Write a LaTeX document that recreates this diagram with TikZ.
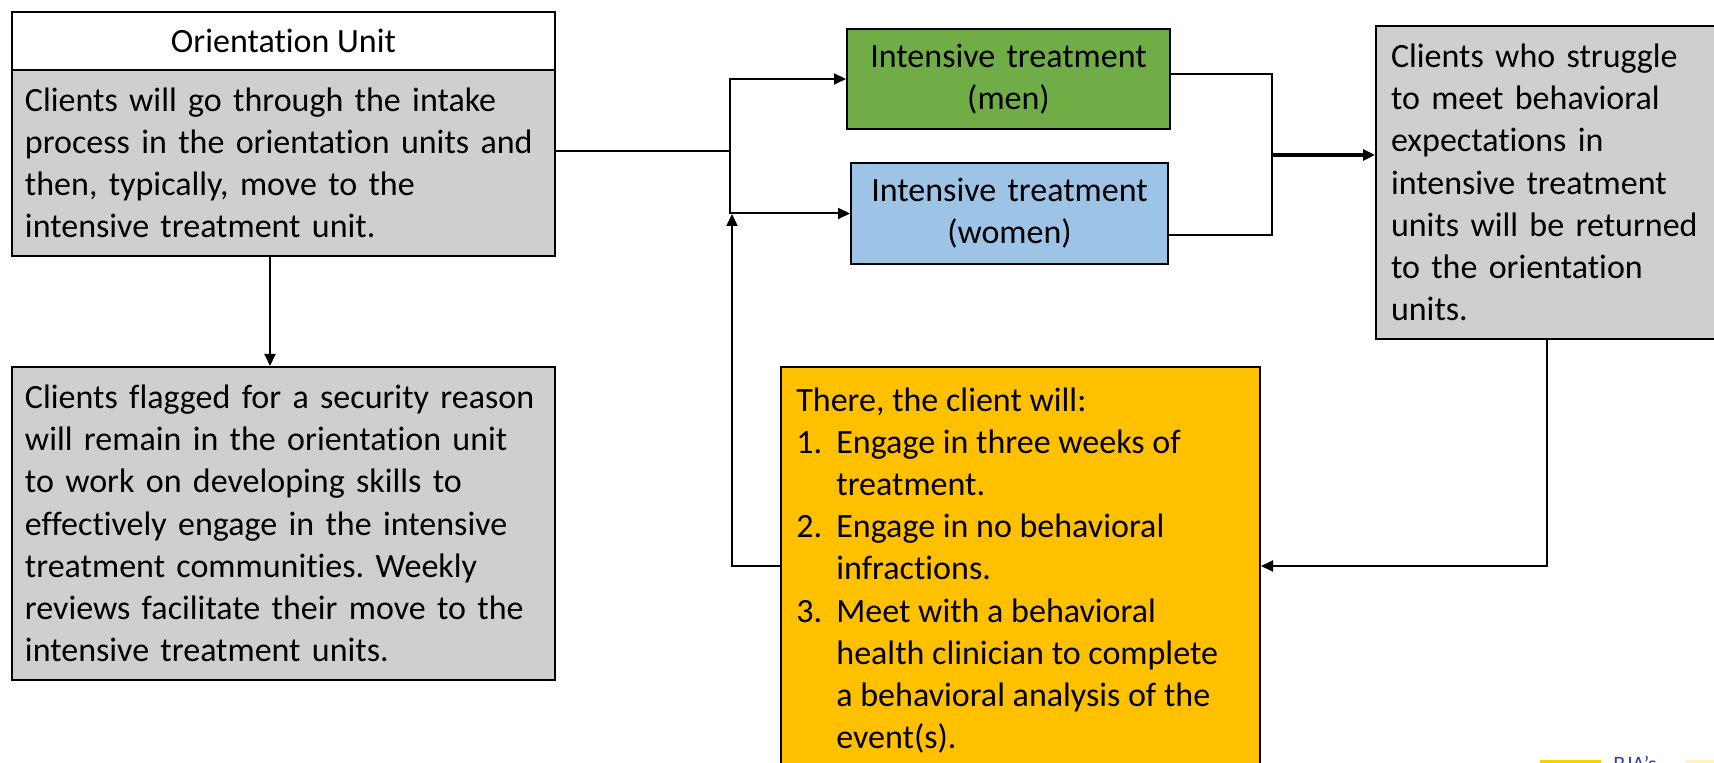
\documentclass[tikz,border=0pt]{standalone}
\usepackage{fontspec}
\setmainfont{Carlito}[Ligatures={NoCommon}]
\usetikzlibrary{arrows.meta,calc}
\definecolor{menG}{HTML}{70AD47}
\definecolor{womB}{HTML}{9DC3E6}
\definecolor{boxGrey}{HTML}{D0CECE}
\definecolor{yelO}{HTML}{FFC000}
\definecolor{logoY}{HTML}{F2D400}
\definecolor{logoL}{HTML}{FFF3C4}
\definecolor{logoB}{HTML}{33439C}
\newcommand{\fsz}{\fontsize{17}{21.1}\selectfont\frenchspacing}
\tikzset{
  box/.style={draw, line width=1pt, anchor=north west, inner ysep=0pt, font=\fsz},
  link/.style={line width=1pt},
  arr/.style={line width=1pt, -{Triangle[length=6pt,width=5.5pt]}},
  thickarr/.style={line width=2pt, -{Triangle[length=6pt,width=5.5pt]}},
}
\begin{document}
\begin{tikzpicture}[x=0.5pt,y=-0.5pt]
\useasboundingbox (0,0) rectangle (1714,763);
\clip (0,0) rectangle (1714,763);

% boxes
\node[box, fill=white, minimum width=271.5pt, minimum height=29pt, align=center, inner xsep=0pt] (ohead) at (11,11) {Orientation Unit};
\node[box, fill=boxGrey, minimum width=271.5pt, minimum height=93pt, text width=258.5pt, inner xsep=6.5pt, align=left] (obody) at (11,69)
 {Clients will go through the intake\\process in the orientation units and\\then, typically, move to the\\intensive treatment unit.};
\node[box, fill=boxGrey, minimum width=271.5pt, minimum height=156.5pt, text width=258.5pt, inner xsep=6.5pt, align=left] (sec) at (11,366)
 {Clients flagged for a security reason\\will remain in the orientation unit\\to work on developing skills to\\effectively engage in the intensive\\treatment communities. Weekly\\reviews facilitate their move to the\\intensive treatment units.};
\node[box, fill=menG, minimum width=161.5pt, minimum height=50pt, text width=161.5pt, inner xsep=0pt, align=center] (men) at (846,28)
 {Intensive treatment\\(men)};
\node[box, fill=womB, minimum width=158.5pt, minimum height=50.5pt, text width=158.5pt, inner xsep=0pt, align=center] (women) at (850,162)
 {Intensive treatment\\(women)};
\node[box, fill=boxGrey, minimum width=168.5pt, minimum height=156.5pt, text width=161pt, inner xsep=7.5pt, align=left] (ret) at (1375,25)
 {Clients who struggle\\to meet behavioral\\expectations in\\intensive treatment\\units will be returned\\to the orientation\\units.};
\node[box, fill=yelO, minimum width=239.5pt, minimum height=230pt, inner sep=0pt] (yel) at (780,366) {};
\node[anchor=north west, font=\fsz, align=left, inner sep=0pt] (yeltext) at (796,387)
 {There, the client will:\\
  \makebox[20pt][l]{1.}Engage in three weeks of\\
  \hspace*{20pt}treatment.\\
  \makebox[20pt][l]{2.}Engage in no behavioral\\
  \hspace*{20pt}infractions.\\
  \makebox[20pt][l]{3.}Meet with a behavioral\\
  \hspace*{20pt}health clinician to complete\\
  \hspace*{20pt}a behavioral analysis of the\\
  \hspace*{20pt}event(s).};

% helper coordinates
\coordinate (j1) at (730,151);
\coordinate (ax) at (270,0);
\coordinate (mR) at (1272,74);
\coordinate (wR) at (1272,235);
\coordinate (j2) at (1272,155);
\coordinate (fb) at (732,566);
\coordinate (ftip) at (732,214);
\coordinate (rb) at (1547,566);

% connectors
\draw[link] (obody.east |- j1) -- (j1);
\draw[arr] (j1) |- (men.west);
\draw[arr] (j1) |- (women.west);
\draw[arr] (obody.south -| ax) -- (sec.north -| ax);
\draw[link] (men.east |- mR) -- (mR) -- (wR) -- (women.east |- wR);
\draw[thickarr] (j2) -- (ret.west |- j2);
\draw[arr] (yel.west |- fb) -- (fb) -- (ftip);
\draw[arr] (ret.south -| rb) -- (rb) -- (yel.east |- rb);

% logo fragment
\fill[logoY] (1540,760) rectangle (1601,770);
\fill[logoL] (1686,760) rectangle (1714,770);
\node[anchor=north west, inner sep=0pt, text=logoB, font=\fontsize{11}{12}\selectfont] (logo) at (1613,756) {BJA's};
\end{tikzpicture}
\end{document}
